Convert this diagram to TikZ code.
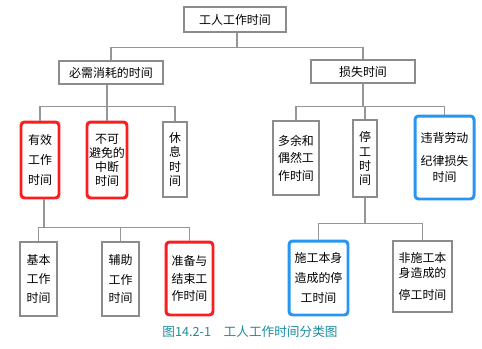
\documentclass[tikz,border=0pt]{standalone}
\usepackage{fontspec}
\newfontfamily\cjk{Noto Sans CJK SC}
\usepackage{tikz}
\usetikzlibrary{positioning,arrows.meta,calc}
\definecolor{linegray}{RGB}{150, 150, 150}
\definecolor{boxgray}{RGB}{140, 140, 140}
\definecolor{markred}{RGB}{250, 30, 30}
\definecolor{markblue}{RGB}{40, 150, 240}
\definecolor{captionteal}{RGB}{25, 140, 160}

\begin{document}
\begin{tikzpicture}[
        x={(0.02cm,0)}, y={(0,-0.02cm)},
        box/.style={draw=boxgray, line width=0.6pt, align=center, inner sep=1pt,
            font=\fontsize{6.8}{8}\selectfont\cjk},
        redbox/.style={box, draw=markred, line width=1.7pt, rounded corners=2pt},
        bluebox/.style={box, draw=markblue, line width=1.7pt, rounded corners=2pt},
        link/.style={draw=linegray, line width=0.6pt}
    ]
    \useasboundingbox (0,0) rectangle (482,348);
    \node[box, minimum width=2.04cm, minimum height=0.5cm] (root) at (235,19.5) {工人工作时间};
    \node[box, minimum width=2.08cm, minimum height=0.46cm] (need) at (111,72.5) {必需消耗的时间};
    \node[box, minimum width=2.08cm, minimum height=0.46cm] (loss) at (363,71.5) {损失时间};
    \node[redbox, minimum width=0.76cm, minimum height=1.52cm] (eff) at (40,160) {有效\\[3.2pt]工作\\[3.2pt]时间};
    \node[redbox, minimum width=0.8cm, minimum height=1.52cm] (inter) at (107,160) {不可\\避免的\\中断\\时间};
    \node[box, minimum width=0.48cm, minimum height=1.5cm] (rest) at (175,159.5) {休\\息\\时\\间};
    \node[box, minimum width=0.92cm, minimum height=1.48cm] (extra) at (296,158) {多余和\\[2pt]偶然工\\[2pt]作时间};
    \node[box, minimum width=0.48cm, minimum height=1.54cm] (stop) at (365,158.5) {停\\工\\时\\间};
    \node[bluebox, minimum width=1.18cm, minimum height=1.66cm] (viol) at (444.5,157.5) {违背劳动\\[5pt]纪律损失\\[1pt]时间};
    \node[box, minimum width=0.74cm, minimum height=1.48cm] (basic) at (38.5,279) {基本\\[3pt]工作\\[3pt]时间};
    \node[box, minimum width=0.74cm, minimum height=1.48cm] (aux) at (120.5,279) {辅助\\[3.5pt]工作\\[2pt]时间};
    \node[redbox, minimum width=0.94cm, minimum height=1.46cm] (prep) at (189.5,278.5) {准备与\\[2pt]结束工\\[2pt]作时间};
    \node[bluebox, minimum width=1.18cm, minimum height=1.48cm] (self) at (318.5,278) {施工本身\\[3pt]造成的停\\[3.5pt]工时间};
    \node[box, minimum width=1.18cm, minimum height=1.42cm] (nonself) at (422.5,276.5) {非施工本\\[0.5pt]身造成的\\[5pt]停工时间};
    \node[text=captionteal, font=\fontsize{7.2}{8}\selectfont\cjk] (cap) at (250,332) {图14.2-1\quad 工人工作时间分类图};
    \draw[link] ([xshift=0.04cm]root.south) -- ++(0,15) -| (need.north);
    \draw[link] ([xshift=0.04cm]root.south) -- ++(0,15) -| (loss.north);
    \draw[link] ([xshift=-0.08cm]need.south) -- ++(0,22) -| (eff.north);
    \draw[link] ([xshift=-0.08cm]need.south) -- ++(0,22) -| (inter.north);
    \draw[link] ([xshift=-0.08cm]need.south) -- ++(0,22) -| (rest.north);
    \draw[link] (loss.south) -- ++(0,23) -| (extra.north);
    \draw[link] (loss.south) -- ++(0,23) -| (stop.north);
    \draw[link] (loss.south) -- ++(0,23) -| (viol.north);
    \draw[link] ([xshift=0.08cm]eff.south) -- ++(0,28) -| (basic.north);
    \draw[link] ([xshift=0.08cm]eff.south) -- ++(0,28) -| (aux.north);
    \draw[link] ([xshift=0.08cm]eff.south) -- ++(0,28) -| (prep.north);
    \draw[link] (stop.south) -- ++(0,26) -| (self.north);
    \draw[link] (stop.south) -- ++(0,26) -| (nonself.north);
\end{tikzpicture}
\end{document}
